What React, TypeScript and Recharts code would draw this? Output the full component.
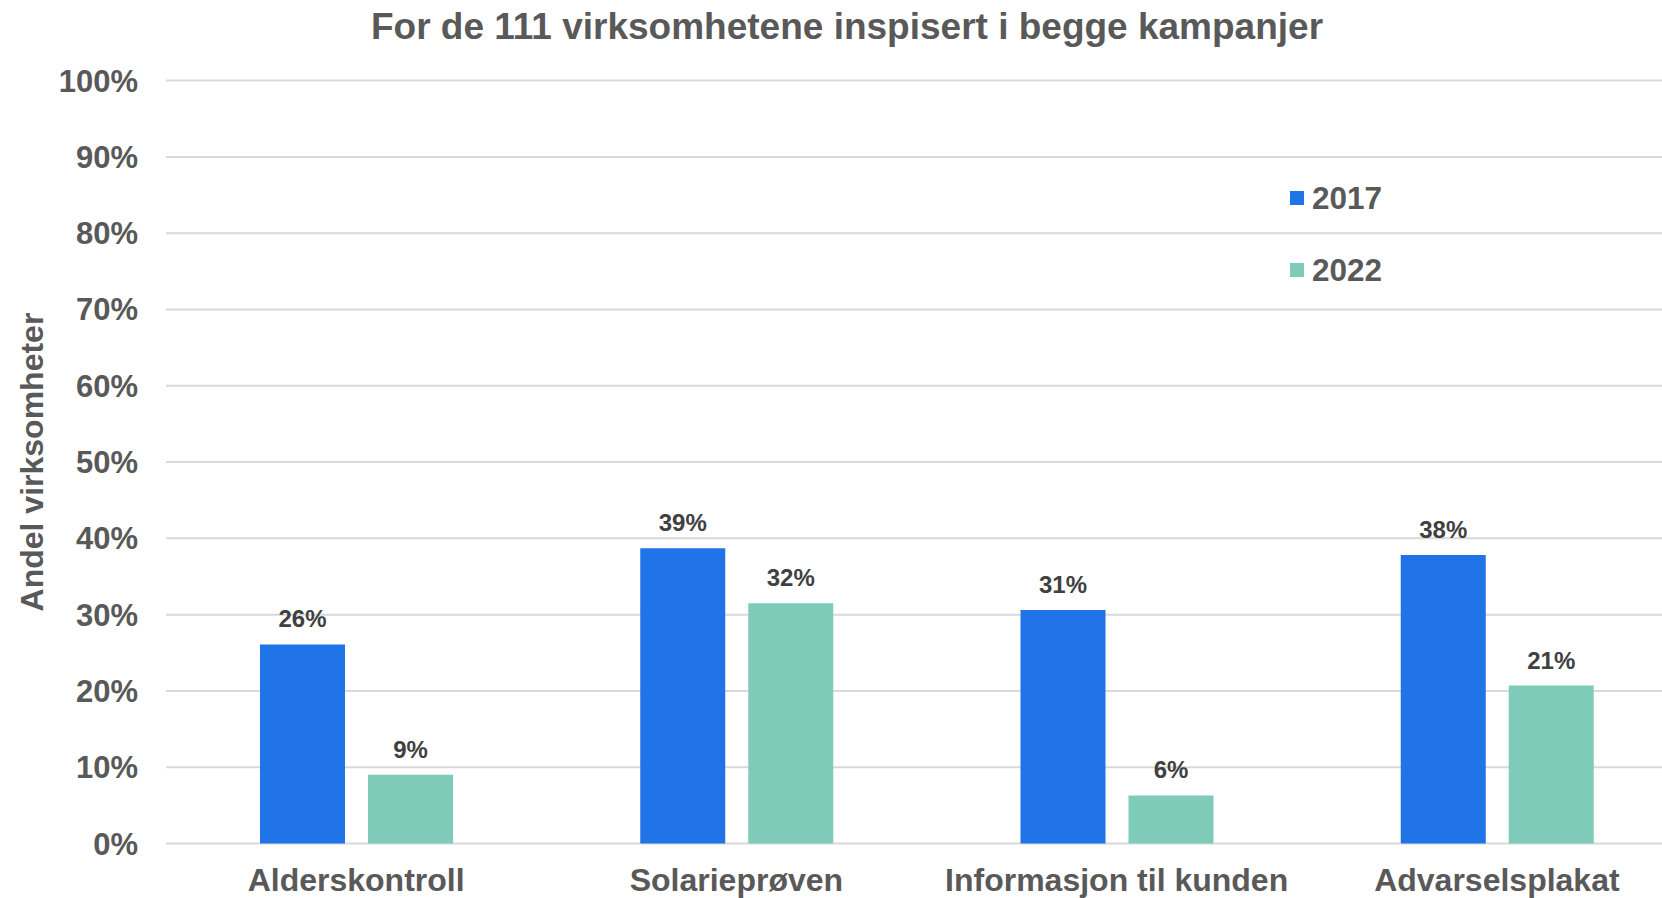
import {
  BarChart,
  Bar,
  XAxis,
  YAxis,
  CartesianGrid,
  Legend,
  LabelList,
} from "recharts";

const categories = [
  "Alderskontroll",
  "Solarieprøven",
  "Informasjon til kunden",
  "Advarselsplakat",
];
const values2017 = [26.1, 38.7, 30.6, 37.8];
const values2022 = [9.0, 31.5, 6.3, 20.7];
const yTicks = [0, 10, 20, 30, 40, 50, 60, 70, 80, 90, 100];

const data = categories.map((name, i) => ({
  name,
  y2017: values2017[i],
  y2022: values2022[i],
}));

const FONT = "'Liberation Sans', Arial, sans-serif";
const GREY = "#595959";

function LegendBox({ payload }: any) {
  return (
    <div>
      {(payload || []).map((p: any) => (
        <div
          key={p.value}
          style={{ display: "flex", alignItems: "center", height: 72, lineHeight: "72px" }}
        >
          <span style={{ width: 14, height: 14, background: p.color, marginRight: 8 }} />
          <span style={{ fontSize: 31.5, fontWeight: 700, color: GREY, fontFamily: FONT }}>
            {p.value}
          </span>
        </div>
      ))}
    </div>
  );
}

export default function App() {
  return (
    <div
      style={{
        position: "absolute",
        top: 0,
        left: 0,
        width: 1662,
        height: 898,
        overflow: "hidden",
        background: "#fff",
        fontFamily: FONT,
      }}
    >
      <div style={{ position: "relative", width: 1694, height: 898 }}>
        <div
          style={{
            position: "absolute",
            top: 9,
            left: 0,
            width: 1694,
            textAlign: "center",
            fontSize: 37,
            lineHeight: "36px",
            fontWeight: 700,
            color: GREY,
            zIndex: 1,
          }}
        >
          For de 111 virksomhetene inspisert i begge kampanjer
        </div>
        <BarChart
          width={1694}
          height={898}
          data={data}
          margin={{ top: 80.6, right: 7, bottom: 0, left: 0 }}
          barSize={85}
          barGap={23}
        >
          <CartesianGrid vertical={false} stroke="#d9d9d9" strokeWidth={2} />
          <XAxis
            dataKey="name"
            axisLine={false}
            tickLine={false}
            tickSize={0}
            tickMargin={25}
            height={54.5}
            interval={0}
            tick={{ fontSize: 32, fontWeight: 700, fill: GREY, fontFamily: FONT }}
          />
          <YAxis
            domain={[0, 100]}
            ticks={yTicks}
            axisLine={false}
            tickLine={false}
            tickSize={0}
            tickMargin={28}
            width={166}
            tickFormatter={(v) => `${v}%`}
            tick={{ fontSize: 31, fontWeight: 700, fill: GREY, fontFamily: FONT }}
            label={{
              value: "Andel virksomheter",
              angle: -90,
              position: "center",
              dx: -51,
              style: { fontSize: 32, fontWeight: 700, fill: GREY, fontFamily: FONT },
            }}
          />
          <Legend
            layout="vertical"
            align="center"
            verticalAlign="middle"
            wrapperStyle={{ top: 162, left: 1290 }}
            content={<LegendBox />}
          />
          <Bar dataKey="y2017" name="2017" fill="#2173e8" isAnimationActive={false}>
            <LabelList
              dataKey="y2017"
              position="top"
              offset={17}
              formatter={(v: any) => `${Math.round(Number(v))}%`}
              style={{ fontSize: 24, fontWeight: 700, fill: "#404040", fontFamily: FONT }}
            />
          </Bar>
          <Bar dataKey="y2022" name="2022" fill="#7fcbb9" isAnimationActive={false}>
            <LabelList
              dataKey="y2022"
              position="top"
              offset={17}
              formatter={(v: any) => `${Math.round(Number(v))}%`}
              style={{ fontSize: 24, fontWeight: 700, fill: "#404040", fontFamily: FONT }}
            />
          </Bar>
        </BarChart>
      </div>
    </div>
  );
}
